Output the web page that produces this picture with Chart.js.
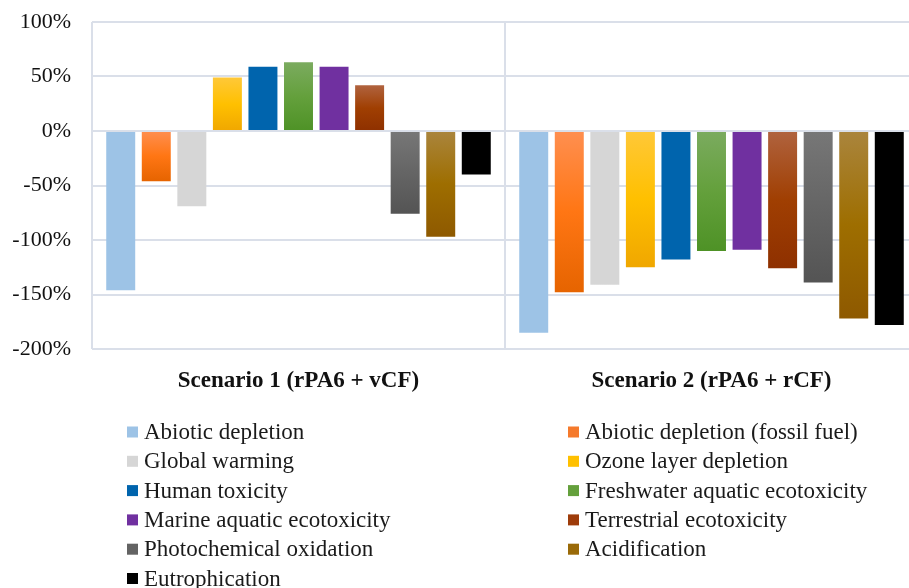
<!DOCTYPE html>
<html>
<head>
<meta charset="utf-8">
<script src="https://cdn.jsdelivr.net/npm/chart.js@4.4.1/dist/chart.umd.min.js"></script>
<style>
  html, body { margin: 0; padding: 0; background: #ffffff; overflow: hidden; }
  #wrap { width: 930px; height: 588px; }
</style>
</head>
<body>
<div id="wrap"><canvas id="chart" width="930" height="588"></canvas></div>
<script>
// Scenarios on the category axis
const scenarios = ['Scenario 1 (rPA6 + vCF)', 'Scenario 2 (rPA6 + rCF)'];

// Impact categories (one bar series each)
const impactNames = [
  'Abiotic depletion',
  'Abiotic depletion (fossil fuel)',
  'Global warming',
  'Ozone layer depletion',
  'Human toxicity',
  'Freshwater aquatic ecotoxicity',
  'Marine aquatic ecotoxicity',
  'Terrestrial ecotoxicity',
  'Photochemical oxidation',
  'Acidification',
  'Eutrophication'
];

// Relative change (%) per impact category, scenario 1 then scenario 2
const abioticDepletion   = [-146, -185];
const abioticFossil      = [-46, -148];
const globalWarming      = [-69, -141];
const ozoneDepletion     = [49, -125];
const humanToxicity      = [59, -118];
const freshwaterEco      = [63, -110];
const marineEco          = [59, -109];
const terrestrialEco     = [42, -126];
const photochemical      = [-76, -139];
const acidification      = [-97, -172];
const eutrophication     = [-40, -178];

const seriesValues = [
  abioticDepletion, abioticFossil, globalWarming, ozoneDepletion, humanToxicity,
  freshwaterEco, marineEco, terrestrialEco, photochemical, acidification, eutrophication
];

// Y axis tick values
const yTicks = [100, 50, 0, -50, -100, -150, -200];

// Fill styles: gradient stops from top of bar to bottom, plus a swatch colour
const fills = [
  { stops: ['#9dc3e6', '#9dc3e6'], swatch: '#9dc3e6' },
  { stops: ['#ff8f50', '#ff7614', '#e66400'], swatch: '#f57a2c' },
  { stops: ['#d6d6d6', '#d6d6d6'], swatch: '#d6d6d6' },
  { stops: ['#ffc838', '#ffc000', '#f0a700'], swatch: '#ffc000' },
  { stops: ['#0064ad', '#0064ad'], swatch: '#0064ad' },
  { stops: ['#7bab5f', '#64a03c', '#4e9226'], swatch: '#64a03c' },
  { stops: ['#7030a0', '#7030a0'], swatch: '#7030a0' },
  { stops: ['#b0633f', '#a03f02', '#8e3000'], swatch: '#9e3c0a' },
  { stops: ['#777777', '#656565', '#545454'], swatch: '#636363' },
  { stops: ['#aa853d', '#9e6e00', '#8e5900'], swatch: '#9a6a08' },
  { stops: ['#000000', '#000000'], swatch: '#000000' }
];

const serif = "'Liberation Serif', 'Times New Roman', serif";

function barFill(idx) {
  return function (ctx) {
    const chart = ctx.chart;
    const f = fills[idx];
    if (!chart.chartArea || !chart.scales.y || ctx.type !== 'data') return f.swatch;
    const y = chart.scales.y;
    const p0 = y.getPixelForValue(0);
    const p1 = y.getPixelForValue(ctx.raw);
    const top = Math.min(p0, p1), bot = Math.max(p0, p1);
    if (bot - top < 1) return f.swatch;
    const g = chart.ctx.createLinearGradient(0, top, 0, bot);
    const n = f.stops.length;
    f.stops.forEach((c, i) => g.addColorStop(i / (n - 1), c));
    return g;
  };
}

const datasets = impactNames.map((name, i) => ({
  label: name,
  data: seriesValues[i],
  backgroundColor: barFill(i),
  borderWidth: 0,
  categoryPercentage: 0.947,
  barPercentage: 0.815
}));

// Two-column legend drawn beneath the plot
const columnLegend = {
  id: 'columnLegend',
  afterDraw(chart) {
    const c = chart.ctx;
    c.save();
    c.font = '23px ' + serif;
    c.textBaseline = 'middle';
    c.textAlign = 'left';
    const cols = [{ box: 127, text: 144 }, { box: 568, text: 585 }];
    const y0 = 432, step = 29.3, box = 11;
    chart.data.datasets.forEach((ds, i) => {
      const col = cols[i % 2];
      const y = y0 + Math.floor(i / 2) * step;
      c.fillStyle = fills[i].swatch;
      c.fillRect(col.box, y - box / 2, box, box);
      c.fillStyle = '#1a1a1a';
      c.fillText(ds.label, col.text, y + 1);
    });
    c.restore();
  }
};

new Chart(document.getElementById('chart'), {
  type: 'bar',
  data: { labels: scenarios, datasets },
  plugins: [columnLegend],
  options: {
    responsive: false,
    animation: false,
    layout: { autoPadding: false, padding: { top: 22, right: 12, left: 0, bottom: 0 } },
    plugins: {
      legend: { display: false },
      tooltip: { enabled: false }
    },
    scales: {
      x: {
        offset: true,
        grid: { offset: true, color: '#dadfe9', lineWidth: 2, drawTicks: false },
        border: { display: false },
        ticks: {
          padding: 18,
          color: '#111111',
          font: { family: serif, size: 23, weight: 'bold' }
        },
        afterFit(scale) { scale.height = 239; }
      },
      y: {
        min: -200,
        max: 100,
        afterBuildTicks(scale) { scale.ticks = yTicks.map(v => ({ value: v })); },
        grid: { color: '#dadfe9', lineWidth: 2, drawTicks: false },
        border: { display: false },
        ticks: {
          padding: 21,
          color: '#111111',
          font: { family: serif, size: 22 },
          callback: v => v + '%'
        },
        afterFit(scale) {
          scale.width = 92;
          scale.paddingTop = 12;
          scale.paddingBottom = 0;
        }
      }
    }
  }
});
</script>
</body>
</html>
